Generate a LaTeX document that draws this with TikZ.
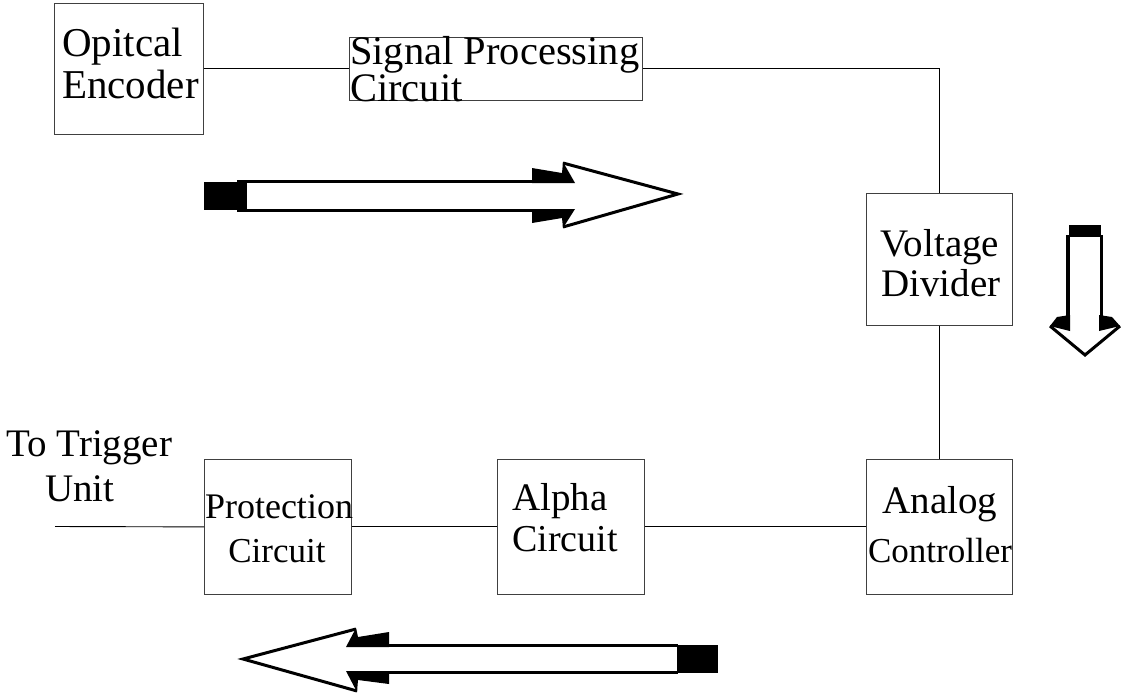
\documentclass[tikz,border=0pt]{standalone}
\usepackage{fontspec}
\setmainfont{Liberation Serif}
\tikzset{
  box/.style={draw=black!75, line width=0.8pt, rectangle, inner sep=0pt, anchor=north west},
  conn/.style={draw=black, line width=0.9pt},
  lbl/.style={inner sep=0pt, text=black},
  shaft/.style={line width=3pt, line cap=butt},
  headline/.style={line width=3pt, line join=miter, line cap=butt}
}
\newcommand{\fs}[1]{\fontsize{#1}{#1}\selectfont}
\begin{document}
\begin{tikzpicture}[x=1pt, y=-1pt]
\useasboundingbox (0,0) rectangle (1121,694);
% boxes
\node[box, minimum width=149pt, minimum height=131pt] (enc) at (54,3) {};
\node[box, minimum width=293pt, minimum height=63pt] (sp) at (349,37) {};
\node[box, minimum width=146pt, minimum height=132pt] (vd) at (866,193) {};
\node[box, minimum width=146pt, minimum height=135pt] (ac) at (866,459) {};
\node[box, minimum width=147pt, minimum height=135pt] (al) at (497,459) {};
\node[box, minimum width=147pt, minimum height=135pt] (pr) at (204,459) {};
\coordinate (trig) at (55,526.5);
% texts
\node[lbl, anchor=base west, font=\fs{41}] (t1) at (62,56) {Opitcal};
\node[lbl, anchor=base west, font=\fs{41}] (t2) at (62,98) {Encoder};
\node[lbl, anchor=base west, font=\fs{40.5}] (t3) at (350,64) {Signal Processing};
\node[lbl, anchor=base west, font=\fs{40.5}] (t4) at (350,101) {Circuit};
\node[lbl, anchor=base, font=\fs{39}] (t5) at (940,256) {Voltage};
\node[lbl, anchor=base, font=\fs{39}] (t6) at (941,296) {Divider};
\node[lbl, anchor=base west, font=\fs{39}] (t7) at (6,456) {To Trigger};
\node[lbl, anchor=base west, font=\fs{39}] (t8) at (45,501) {Unit};
\node[lbl, anchor=base, font=\fs{36}] (t9) at (279,518) {Protection};
\node[lbl, anchor=base, font=\fs{35}] (t10) at (277,562) {Circuit};
\node[lbl, anchor=base west, font=\fs{39}] (t11) at (512,510) {Alpha};
\node[lbl, anchor=base west, font=\fs{38}] (t12) at (512,551) {Circuit};
\node[lbl, anchor=base, font=\fs{39}] (t13) at (940,513) {Analog};
\node[lbl, anchor=base, font=\fs{35}] (t14) at (940,562) {Controller};
% connectors
\draw[conn] (enc.east) -- (enc.east -| sp.west);
\draw[conn] (sp.east |- enc.east) -| (vd.north);
\draw[conn] (vd.south) -- (ac.north);
\draw[conn] (ac.west) -- (al.east);
\draw[conn] (al.west) -- (pr.east);
\draw[conn] (pr.west) -- (trig);
% right arrow
\fill (204,182) rectangle (237,210);
\fill (237,180) rectangle (247,212);
\draw[shaft] (246,181.5) -- (533,181.5);
\draw[shaft] (246,210.5) -- (533,210.5);
\fill (532,183) -- (532,168) -- (562,173) -- (563,162) -- (575,183) -- cycle;
\fill (532,209) -- (532,223) -- (562,218) -- (563,228) -- (575,209) -- cycle;
\draw[headline] (563,163) -- (678,194) -- (563,227);
% left arrow
\fill (677,645) rectangle (718,673);
\draw[shaft] (388,645.5) -- (678,645.5);
\draw[shaft] (388,672) -- (678,672);
\fill (389,647) -- (389,632) -- (358,637) -- (356,628) -- (346,647) -- cycle;
\fill (389,671) -- (389,684) -- (358,680) -- (357,692) -- (346,671) -- cycle;
\draw[headline] (356,629) -- (243,659) -- (357,691);
% down arrow
\fill (1069,225) rectangle (1101,237);
\draw[line width=4pt] (1068,235) -- (1068,318);
\draw[shaft] (1101,235) -- (1101,318);
\fill (1070,315) -- (1057,317) -- (1050,326) -- (1070,331) -- cycle;
\fill (1099,315) -- (1112,317) -- (1120,326) -- (1099,331) -- cycle;
\draw[headline] (1050,326) -- (1085,355) -- (1120,326);
\end{tikzpicture}
\end{document}
